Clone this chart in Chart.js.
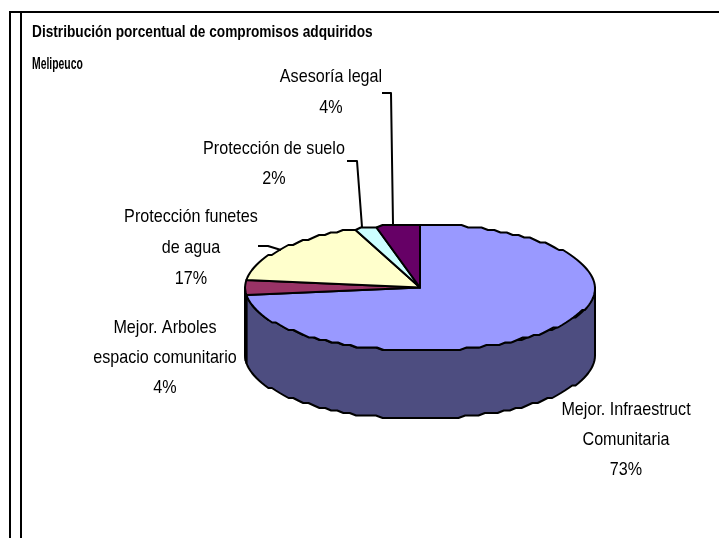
<!DOCTYPE html>
<html>
<head>
<meta charset="utf-8">
<style>html,body{margin:0;padding:0;background:#fff;overflow:hidden}canvas{display:block}</style>
<script src="https://cdn.jsdelivr.net/npm/chart.js@4"></script>
</head>
<body>
<canvas id="c" width="719" height="538"></canvas>
<script>
const categories = ["Mejor. Infraestruct Comunitaria","Mejor. Arboles espacio comunitario","Protección funetes de agua","Protección de suelo","Asesoría legal"];
const values = [73,4,17,2,4];
const topColors = ["#9999FF","#993366","#FFFFCC","#CCFFFF","#660066"];
const wallColors = ["#4D4D80","#4D1A33","#808066","#668080","#330033"];
const titleLines = ["Distribución porcentual de compromisos adquiridos","Melipeuco"];
const labelLines = [["Mejor. Infraestruct","Comunitaria","73%"],["Mejor. Arboles","espacio comunitario","4%"],["Protección funetes","de agua","17%"],["Protección de suelo","2%"],["Asesoría legal","4%"]];
const labelCenters = [[626,410,30],[165,328,30],[191,217,31],[274,149,30],[331,77,31]];
const leaders = [[[258,246],[268,246],[281,250]],[[347,161],[357,161],[362,227]],[[382,93],[391,93],[393,224]]];
const TILT = 63.5/176, DEPTH = 68;
const LABEL_FONT = '19px "Liberation Sans",sans-serif', LABEL_SX = 0.85;
const TITLE_FONT = 'bold 17px "Liberation Sans",sans-serif', TITLE_SX = 0.805;
const TITLE_LINE_SX = [1, 0.76];

function snap(v,g){return Math.round(v/g)*g;}
function squeezed(ctx,t,x,y,sx){
  ctx.save(); ctx.translate(x,y); ctx.scale(sx,1); ctx.fillText(t,0,0); ctx.restore();
}
const pie3d = {
  id:'pie3d',
  beforeDatasetsDraw(chart){
    const ctx = chart.ctx, arcs = chart.getDatasetMeta(0).data;
    ctx.save();
    ctx.strokeStyle='#000'; ctx.lineWidth=2;
    ctx.beginPath();
    ctx.moveTo(10,538); ctx.lineTo(10,12); ctx.lineTo(719,12);
    ctx.moveTo(21,12); ctx.lineTo(21,538);
    ctx.stroke();
    ctx.lineJoin='round';
    const {x:cx,y:cy,outerRadius:r} = arcs[0];
    const pt=(t,dy)=>[cx+r*Math.cos(t), snap(cy+r*TILT*Math.sin(t),2.5)+dy];
    const trace=(a,b,dy)=>{
      const n=Math.max(2,Math.ceil(Math.abs(b-a)*r/7)), out=[];
      for(let i=0;i<=n;i++) out.push(pt(a+(b-a)*i/n,dy));
      return out;
    };
    arcs.forEach((arc,i)=>{
      const a=Math.max(arc.startAngle,0), b=Math.min(arc.endAngle,Math.PI);
      if(b<=a) return;
      const top=trace(a,b,0), bot=trace(b,a,DEPTH);
      ctx.beginPath();
      top.concat(bot).forEach((p,k)=>k?ctx.lineTo(p[0],p[1]):ctx.moveTo(p[0],p[1]));
      ctx.closePath();
      ctx.fillStyle=wallColors[i]; ctx.fill();
      ctx.strokeStyle='#000'; ctx.lineWidth=2; ctx.stroke();
    });
    arcs.forEach((arc,i)=>{
      const pts=trace(arc.startAngle,arc.endAngle,0);
      ctx.beginPath();
      ctx.moveTo(cx,cy);
      pts.forEach(p=>ctx.lineTo(p[0],p[1]));
      ctx.closePath();
      ctx.fillStyle=topColors[i]; ctx.fill();
      ctx.strokeStyle='#000'; ctx.lineWidth=2; ctx.stroke();
    });
    ctx.lineWidth=2; ctx.strokeStyle='#000';
    leaders.forEach(l=>{ctx.beginPath();l.forEach((p,k)=>k?ctx.lineTo(p[0],p[1]):ctx.moveTo(p[0],p[1]));ctx.stroke();});
    ctx.fillStyle='#000'; ctx.textBaseline='middle';
    ctx.font=TITLE_FONT; ctx.textAlign='left';
    titleLines.forEach((t,i)=>squeezed(ctx,t,32,32+i*32,TITLE_SX*TITLE_LINE_SX[i]));
    ctx.font=LABEL_FONT; ctx.textAlign='center';
    labelLines.forEach((lines,i)=>{
      const [x,y,h]=labelCenters[i];
      lines.forEach((t,k)=>squeezed(ctx,t,x,y+k*h,LABEL_SX));
    });
    ctx.restore();
    return false;
  }
};
new Chart(document.getElementById('c'),{
  type:'pie',
  data:{labels:categories,datasets:[{data:values,backgroundColor:topColors,borderColor:'#000',borderWidth:2}]},
  options:{
    responsive:false,animation:false,
    layout:{padding:{left:244,right:123,top:111.5,bottom:74.5}},
    plugins:{legend:{display:false},tooltip:{enabled:false},title:{display:false}}
  },
  plugins:[pie3d]
});
</script>
</body>
</html>
